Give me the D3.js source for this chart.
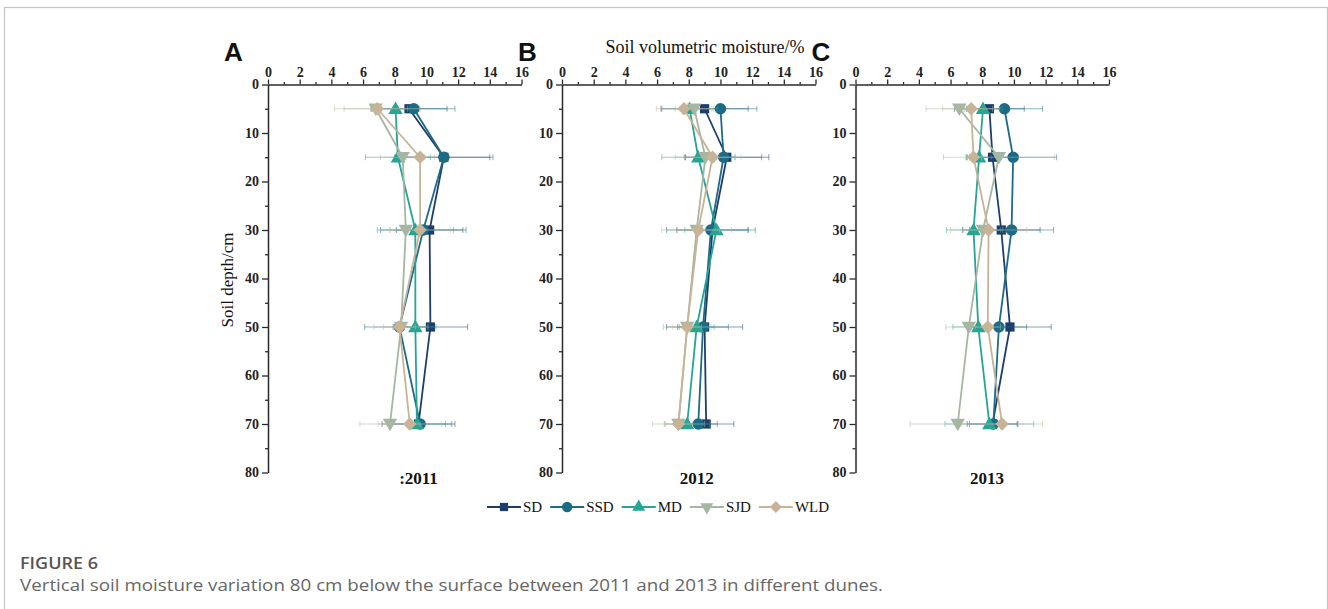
<!DOCTYPE html>
<html>
<head>
<meta charset="utf-8">
<script src="https://cdn.jsdelivr.net/npm/d3@7"></script>
<style>
  body { margin: 0; background: #fff; }
  svg { display: block; }
</style>
</head>
<body>
<div id="chart"></div>
<script>
// depths (cm) and dune types
const depths = [5, 15, 30, 50, 70];
const dunes = ["SD", "SSD", "MD", "SJD", "WLD"];
const years = [":2011", "2012", "2013"];
const panelLetters = ["A", "B", "C"];
const xTicks = [0, 2, 4, 6, 8, 10, 12, 14, 16];
const yTicks = [0, 10, 20, 30, 40, 50, 60, 70, 80];

// mean soil moisture, one row per dune (SD, SSD, MD, SJD, WLD), one value per depth
const mean2011 = [
  [8.9, 11.1, 10.2, 10.25, 9.5],
  [9.2, 11.1, 9.8, 8.3, 9.6],
  [8.05, 8.2, 9.3, 9.3, 9.4],
  [6.8, 8.5, 8.7, 8.4, 7.7],
  [6.9, 9.6, 9.6, 8.3, 8.95]
];
const err2011 = [
  [2.4, 2.9, 2.1, 2.35, 2.3],
  [2.6, 3.1, 2.7, 2.2, 2.0],
  [1.5, 2.05, 2.4, 1.3, 1.8],
  [2.0, 1.4, 1.0, 1.7, 1.9],
  [2.7, 0.9, 1.9, 1.0, 2.0]
];
const mean2012 = [
  [9.0, 10.4, 9.5, 9.0, 9.1],
  [10.0, 10.2, 9.4, 8.9, 8.6],
  [8.05, 8.6, 9.75, 8.5, 7.9],
  [8.35, 9.05, 8.5, 7.9, 7.35],
  [7.7, 9.5, 8.6, 7.9, 7.35]
];
const err2012 = [
  [2.75, 2.65, 2.25, 2.4, 1.75],
  [2.3, 2.4, 2.8, 1.6, 1.2],
  [1.75, 2.3, 2.0, 1.1, 1.4],
  [1.2, 1.9, 2.2, 1.5, 1.65],
  [1.75, 1.8, 1.35, 0.9, 0.9]
];
const mean2013 = [
  [8.45, 8.65, 9.2, 9.75, 8.65],
  [9.4, 9.95, 9.85, 9.05, 8.7],
  [8.05, 7.8, 7.45, 7.75, 8.45],
  [6.55, 9.05, 8.05, 7.15, 6.45],
  [7.3, 7.45, 8.4, 8.35, 9.25]
];
const err2013 = [
  [2.2, 1.6, 2.45, 2.6, 1.6],
  [2.4, 2.75, 2.65, 1.75, 1.5],
  [1.2, 0.8, 1.7, 1.6, 2.8],
  [2.1, 3.5, 1.25, 1.45, 3.0],
  [1.8, 0.5, 2.4, 0.8, 2.55]
];

const means = [mean2011, mean2012, mean2013];
const errs = [err2011, err2012, err2013];

const colors = ["#1d3d6c", "#1b6b87", "#26a494", "#a5b7a2", "#c8b397"];
const shapes = [
  { type: d3.symbolSquare, size: 85, rot: 0 },
  { type: d3.symbolCircle, size: 105, rot: 0 },
  { type: d3.symbolTriangle, size: 90, rot: 0 },
  { type: d3.symbolTriangle, size: 90, rot: 180 },
  { type: d3.symbolSquare, size: 90, rot: 45 }
];

const width = 1328;
const height = 609;
const serif = "'Liberation Serif', 'Times New Roman', serif";

const svg = d3.select("#chart").append("svg")
  .attr("width", width)
  .attr("height", height);

// outer frame
svg.append("rect")
  .attr("x", 4.5).attr("y", 7.5)
  .attr("width", 1323).attr("height", 700)
  .attr("fill", "none")
  .attr("stroke", "#c4c4c4")
  .attr("stroke-width", 1.2);

const panelX = [268, 562, 855.5];
const plotW = 253.5;
const plotTop = 84.5;
const plotBottom = 472.5;

const y = d3.scaleLinear().domain([0, 80]).range([plotTop, plotBottom]);

panelX.forEach((px, p) => {
  const x = d3.scaleLinear().domain([0, 16]).range([px, px + plotW]);
  const g = svg.append("g");

  // top x axis
  g.append("g")
    .attr("transform", `translate(0,${plotTop})`)
    .call(d3.axisTop(x).tickValues(xTicks).tickSize(5).tickSizeOuter(0).tickPadding(3));
  g.append("g")
    .attr("transform", `translate(0,${plotTop})`)
    .call(d3.axisTop(x).tickValues(d3.range(1, 16, 2)).tickSize(2.5).tickFormat("").tickSizeOuter(0))
    .select(".domain").remove();

  // left y axis
  g.append("g")
    .attr("transform", `translate(${px},0)`)
    .call(d3.axisLeft(y).tickValues(yTicks).tickSize(6).tickSizeOuter(0).tickPadding(3));
  g.append("g")
    .attr("transform", `translate(${px},0)`)
    .call(d3.axisLeft(y).tickValues(d3.range(5, 80, 10)).tickSize(3).tickFormat("").tickSizeOuter(0))
    .select(".domain").remove();

  g.selectAll(".domain").attr("stroke", "#2a2a2a").attr("stroke-width", 1.5);
  g.selectAll(".tick line").attr("stroke", "#2a2a2a").attr("stroke-width", 1.3);
  g.selectAll(".tick text")
    .style("font-family", serif)
    .style("font-weight", "bold")
    .style("font-size", "14px")
    .attr("fill", "#222");

  // panel letter
  svg.append("text")
    .attr("x", px - 44).attr("y", 61)
    .attr("font-family", "'Liberation Sans', Arial, sans-serif")
    .attr("font-weight", "bold")
    .attr("font-size", 26)
    .attr("fill", "#111")
    .text(panelLetters[p]);

  // year label
  svg.append("text")
    .attr("x", x(p === 0 ? 9.5 : p === 1 ? 8.5 : 8.3)).attr("y", 484)
    .attr("text-anchor", "middle")
    .attr("font-family", serif)
    .attr("font-weight", "bold")
    .attr("font-size", 17)
    .attr("fill", "#111")
    .text(years[p]);

  const m = means[p];
  const e = errs[p];

  dunes.forEach((name, s) => {
    const pts = depths.map((d, i) => ({ depth: d, v: m[s][i], e: e[s][i] }));
    const sg = g.append("g");

    // error bars
    const eb = sg.selectAll(".eb").data(pts).enter().append("g")
      .attr("stroke", colors[s])
      .attr("stroke-opacity", 0.5)
      .attr("stroke-width", 1);
    eb.append("line")
      .attr("x1", d => x(d.v - d.e)).attr("x2", d => x(d.v + d.e))
      .attr("y1", d => y(d.depth)).attr("y2", d => y(d.depth));
    eb.append("line")
      .attr("x1", d => x(d.v - d.e)).attr("x2", d => x(d.v - d.e))
      .attr("y1", d => y(d.depth) - 3).attr("y2", d => y(d.depth) + 3);
    eb.append("line")
      .attr("x1", d => x(d.v + d.e)).attr("x2", d => x(d.v + d.e))
      .attr("y1", d => y(d.depth) - 3).attr("y2", d => y(d.depth) + 3);

    // line
    sg.append("path")
      .datum(pts)
      .attr("fill", "none")
      .attr("stroke", colors[s])
      .attr("stroke-width", 1.8)
      .attr("d", d3.line().x(d => x(d.v)).y(d => y(d.depth)));

    // markers
    sg.selectAll(".mk").data(pts).enter().append("path")
      .attr("d", d3.symbol().type(shapes[s].type).size(shapes[s].size))
      .attr("transform", d => `translate(${x(d.v)},${y(d.depth) + (s === 3 ? -1 : s === 2 ? 1 : 0)}) rotate(${shapes[s].rot})`)
      .attr("fill", colors[s]);
  });
});

// axis titles
svg.append("text")
  .attr("x", 705).attr("y", 53)
  .attr("text-anchor", "middle")
  .attr("font-family", serif)
  .attr("font-size", 18)
  .attr("fill", "#111")
  .text("Soil volumetric moisture/%");

svg.append("text")
  .attr("transform", "translate(233,280) rotate(-90)")
  .attr("text-anchor", "middle")
  .attr("font-family", serif)
  .attr("font-size", 17)
  .attr("fill", "#111")
  .text("Soil depth/cm");

// legend
const legend = svg.append("g");
let lx = 487;
const ly = 507;
dunes.forEach((name, s) => {
  legend.append("line")
    .attr("x1", lx).attr("x2", lx + 34)
    .attr("y1", ly).attr("y2", ly)
    .attr("stroke", colors[s]).attr("stroke-width", 1.8);
  legend.append("path")
    .attr("d", d3.symbol().type(shapes[s].type).size(shapes[s].size * 0.8))
    .attr("transform", `translate(${lx + 17},${ly}) rotate(${shapes[s].rot})`)
    .attr("fill", colors[s]);
  const t = legend.append("text")
    .attr("x", lx + 36).attr("y", ly + 5)
    .attr("font-family", serif)
    .attr("font-size", 15)
    .attr("fill", "#111")
    .text(name);
  lx += 36 + t.node().getComputedTextLength() + 8;
});

// caption
svg.append("text")
  .attr("x", 20).attr("y", 569)
  .attr("font-family", "'Open Sans', sans-serif")
  .attr("font-size", 17)
  .attr("font-weight", 600)
  .attr("fill", "#555")
  .attr("textLength", 78)
  .attr("lengthAdjust", "spacingAndGlyphs")
  .text("FIGURE 6");
svg.append("text")
  .attr("x", 20).attr("y", 591)
  .attr("font-family", "'Open Sans', sans-serif")
  .attr("font-size", 17)
  .attr("fill", "#666")
  .attr("textLength", 863)
  .attr("lengthAdjust", "spacingAndGlyphs")
  .text("Vertical soil moisture variation 80 cm below the surface between 2011 and 2013 in different dunes.");
</script>
</body>
</html>
